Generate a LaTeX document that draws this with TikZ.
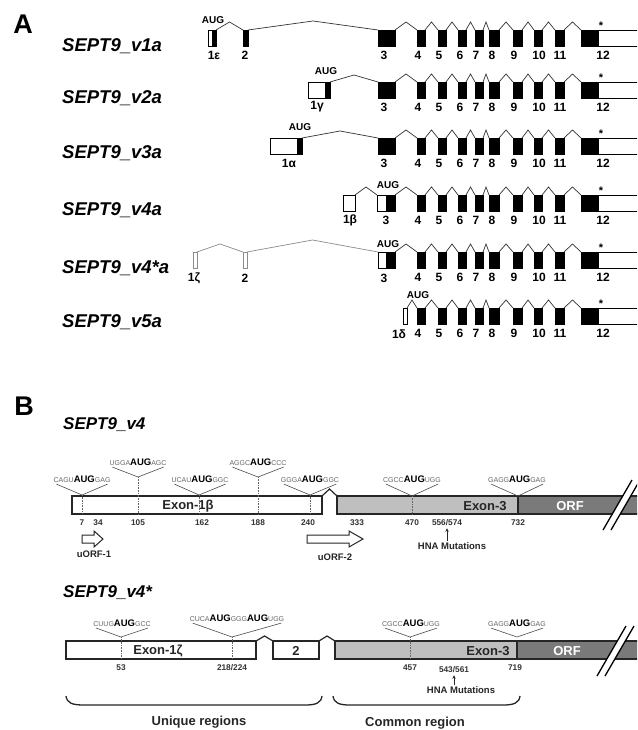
\documentclass[tikz,border=0pt]{standalone}
\usepackage{fontspec}
\setmainfont{Liberation Sans}
\usetikzlibrary{calc,arrows.meta}
\newcommand\fsz[1]{\fontsize{#1}{#1}\selectfont}
\newcommand\flk[1]{{\fsz{7}\mdseries\color{black!60}#1}}
\newcommand\augb{{\fsz{9.5}\bfseries\color{black}AUG}}
\tikzset{
 blk/.style={draw=black, fill=black, line width=0.4pt, inner sep=0pt, outer sep=0pt, minimum height=16pt, anchor=north west},
 wht/.style={draw=black, fill=white, line width=0.7pt, inner sep=0pt, outer sep=0pt, minimum height=16pt, anchor=north west},
 gwht/.style={wht, draw=black!45},
 intr/.style={draw=black!80, line width=0.7pt},
 gintr/.style={draw=black!45, line width=0.7pt},
 exlab/.style={font=\bfseries\fsz{12}, inner sep=0pt},
 auglab/.style={font=\bfseries\fsz{10}, inner sep=0pt},
 starlab/.style={font=\bfseries\fsz{11}, inner sep=0pt},
 vname/.style={font=\bfseries\itshape\fsz{18.5}, anchor=west, inner sep=0pt},
 vnameb/.style={vname, font=\bfseries\itshape\fsz{17}},
 panel/.style={font=\bfseries\fsz{27}, inner sep=0pt},
 bbox/.style={draw=black!85, line width=1.4pt, inner sep=0pt, outer sep=0pt, minimum height=18pt, anchor=north west},
 bw/.style={bbox, fill=white},
 bg/.style={bbox, fill=black!25},
 bo/.style={bbox, fill=black!52},
 blab/.style={font=\bfseries\fsz{13}, inner sep=0pt, text=black!85},
 seqt/.style={inner sep=0pt},
 vline/.style={draw=black!70, line width=0.6pt},
 dotl/.style={draw=black!60, line width=0.6pt, densely dotted},
 bline/.style={draw=black!85, line width=1.2pt},
 num/.style={font=\bfseries\fsz{8.3}, inner sep=0pt, text=black!80},
 smlab/.style={font=\bfseries\fsz{9.5}, inner sep=0pt, text=black!85},
 orfarr/.style={draw=black!85, line width=1pt, fill=white},
 brace/.style={draw=black!85, line width=1.3pt},
}
% intron connector: [style]{from}{to}{height}
\newcommand\intrn[4][intr]{\draw[#1] (#2.north east) -- ($(#2.north east)!.5!(#3.north west)+(0,-#4)$) -- (#3.north west);}
% exons 4..12, UTR, labels, star
\newcommand\restrow[2]{%
  \node[wht, minimum width=50] (#1u) at (598,#2) {};
  \foreach \ia/\xl/\xr/\lx in {4/417/425/418,5/438/446/439,6/458/466/460,7/475/483/476,8/489/499/492,9/513/522/514,10/534/542/539,11/555/564/560,12/581/598/603}{
    \node[blk, minimum width=\xr-\xl] (#1e\ia) at (\xl,#2) {};
    \node[exlab] (#1l\ia) at (\lx,#2+25) {\ia};
  }
  \foreach \ia/\ib in {4/5,5/6,6/7,7/8,8/9,9/10,10/11,11/12}{
    \intrn{#1e\ia}{#1e\ib}{8}
  }
  \node[starlab] (#1s) at (601,#2-4) {*};
}
% sequence annotation: name, x, text y, apex x, apex y, text
\newcommand\seqann[6]{%
  \node[seqt] (#1) at (#2,#3) {#6};
  \coordinate (#1p) at (#4,#5);
  \draw[vline] ($(#1.south west)+(3,1.5)$) -- (#1p) -- ($(#1.south east)+(-3,1.5)$);
}
\begin{document}
\begin{tikzpicture}[x=1pt,y=-1pt]
\useasboundingbox (0,0) rectangle (637,730);
\clip (0,0) rectangle (637,730);
\fill[white] (0,0) rectangle (637,730);

% ================= Panel A =================
\node[panel] (pa) at (23,24) {A};

% Row 1: v1a
\node[vname] (n1) at (62,46) {SEPT9\_v1a};
\node[wht, minimum width=4] (a1w) at (208,30) {};
\node[blk, minimum width=4] (a1b) at (212,30) {};
\node[blk, minimum width=5] (a2) at (243,30) {};
\node[blk, minimum width=17] (ae3) at (378,30) {};
\restrow{a}{30}
\intrn{a1b}{a2}{8}
\intrn{a2}{ae3}{9}
\intrn{ae3}{ae4}{8}
\node[auglab] (aaug) at (213,20) {AUG};
\node[exlab] at (214,55) {1ε};
\node[exlab] at (245,55) {2};
\node[exlab] at (384,55) {3};

% Row 2: v2a
\node[vname] (n2) at (62,98) {SEPT9\_v2a};
\node[wht, minimum width=17] (b1w) at (308,82) {};
\node[blk, minimum width=5] (b1b) at (325,82) {};
\node[blk, minimum width=17] (be3) at (378,82) {};
\restrow{b}{82}
\intrn{b1b}{be3}{7}
\intrn{be3}{be4}{8}
\node[auglab] (baug) at (326,71) {AUG};
\node[exlab] at (317,107) {1γ};
\node[exlab] at (384,107) {3};

% Row 3: v3a
\node[vname] (n3) at (62,153) {SEPT9\_v3a};
\node[wht, minimum width=27] (c1w) at (270,138) {};
\node[blk, minimum width=5] (c1b) at (297,138) {};
\node[blk, minimum width=17] (ce3) at (378,138) {};
\restrow{c}{138}
\intrn{c1b}{ce3}{7}
\intrn{ce3}{ce4}{8}
\node[auglab] (caug) at (300,127) {AUG};
\node[exlab] at (289,163) {1α};
\node[exlab] at (384,163) {3};

% Row 4: v4a
\node[vname] (n4) at (62,210) {SEPT9\_v4a};
\node[wht, minimum width=12] (d1w) at (343,195) {};
\node[wht, minimum width=9] (d3w) at (377,195) {};
\node[blk, minimum width=9] (de3) at (386,195) {};
\restrow{d}{195}
\intrn{d1w}{d3w}{8}
\intrn{de3}{de4}{8}
\node[auglab] (daug) at (388,185) {AUG};
\node[exlab] at (350,220) {1β};
\node[exlab] at (386,220) {3};

% Row 5: v4*a
\node[vname] (n5) at (62,268) {SEPT9\_v4*a};
\node[gwht, minimum width=4] (e1w) at (193,252) {};
\node[gwht, minimum width=4] (e2w) at (243,252) {};
\node[wht, minimum width=8] (e3w) at (378,252) {};
\node[blk, minimum width=9] (ee3) at (386,252) {};
\restrow{e}{252}
\intrn[gintr]{e1w}{e2w}{8}
\intrn[gintr]{e2w}{e3w}{12}
\intrn{ee3}{ee4}{8}
\node[auglab] (eaug) at (388,244) {AUG};
\node[exlab] at (194,278) {1ζ};
\node[exlab] at (245,278) {2};
\node[exlab] at (384,278) {3};

% Row 6: v5a
\node[vname] (n6) at (62,322) {SEPT9\_v5a};
\node[wht, minimum width=4] (f1w) at (403,308) {};
\restrow{f}{308}
\intrn{f1w}{fe4}{8}
\node[auglab] (faug) at (418,295) {AUG};
\node[exlab] at (399,334) {1δ};

% ================= Panel B =================
\node[panel] (pb) at (24,406) {B};

% ---- SEPT9_v4 ----
\node[vnameb] (m1) at (63,425) {SEPT9\_v4};
\node[bo, minimum width=130] (o1) at (518,496) {};
\node[bg, minimum width=181] (g1) at (337,496) {};
\node[bw, minimum width=250] (w1) at (72,496) {};
\intrn[bline]{w1}{g1}{7}
\node[blab] at (188,506) {Exon-1β};
\node[blab] at (485,506) {Exon-3};
\node[blab, text=white] at (570,506) {ORF};
\fill[white] (603,530) -- (632,480) -- (640,480) -- (611,530) -- cycle;
\draw[line width=1.3pt] (603,530) -- (632,480) (611,530) -- (640,480);

\seqann{s1}{82}{479}{82}{495}{\flk{CAGU}\augb\flk{GAG}}
\seqann{s2}{138}{462}{138}{477}{\flk{UGGA}\augb\flk{AGC}}
\seqann{s3}{200}{479}{199}{495}{\flk{UCAU}\augb\flk{GGC}}
\seqann{s4}{258}{462}{258}{477}{\flk{AGGC}\augb\flk{CCC}}
\seqann{s5}{310}{479}{310}{495}{\flk{GGGA}\augb\flk{GGC}}
\seqann{s6}{412}{479}{412}{496}{\flk{CGCC}\augb\flk{UGG}}
\seqann{s7}{517}{479}{518}{496}{\flk{GAGG}\augb\flk{GAG}}
\foreach \s in {s1,s2,s3,s4,s5}{\draw[dotl] (\s p) -- (\s p |- w1.south);}
\draw[dotl] (s6p) -- (s6p |- g1.south);

\node[num] at (82,523) {7};
\node[num] at (98,523) {34};
\node[num] at (138,523) {105};
\node[num] at (202,523) {162};
\node[num] at (258,523) {188};
\node[num] at (308,523) {240};
\node[num] at (357,523) {333};
\node[num] at (412,523) {470};
\node[num] (h1n) at (447,523) {556/574};
\node[num] at (518,523) {732};
\node[smlab] (h1) at (452,546) {HNA Mutations};
\draw[-{Stealth[length=3.5pt,width=3.5pt]}, line width=0.8pt, black!85] ($(h1.north -| h1n)+(0,-1)$) -- ($(h1n.south)+(0,2)$);

\draw[orfarr] (82,535) -- (94,535) -- (94,531) -- (103,539) -- (94,547) -- (94,543) -- (82,543) -- cycle;
\node[smlab] (u1) at (94,554) {uORF-1};
\draw[orfarr] (307,535) -- (349,535) -- (349,531) -- (363,539) -- (349,547) -- (349,543) -- (307,543) -- cycle;
\node[smlab] (u2) at (335,557) {uORF-2};

% ---- SEPT9_v4* ----
\node[vnameb] (m2) at (63,593) {SEPT9\_v4*};
\node[bo, minimum width=130] (o2) at (517,641) {};
\node[bg, minimum width=182] (g2) at (335,641) {};
\node[bw, minimum width=190] (w2) at (66,641) {};
\node[bw, minimum width=46] (w3) at (273,641) {};
\intrn[bline]{w2}{w3}{5}
\intrn[bline]{w3}{g2}{5}
\node[blab] at (158,651) {Exon-1ζ};
\node[blab] at (296,651) {2};
\node[blab] at (488,651) {Exon-3};
\node[blab, text=white] at (567,651) {ORF};
\fill[white] (597,676) -- (626,626) -- (634,626) -- (605,676) -- cycle;
\draw[line width=1.3pt] (597,676) -- (626,626) (605,676) -- (634,626);

\seqann{t1}{122}{623}{121}{637}{\flk{CUUG}\augb\flk{GCC}}
\seqann{t2}{237}{618}{232}{637}{\flk{CUCA}\augb\flk{GGG}\augb\flk{UGG}}
\seqann{t3}{411}{623}{410}{637}{\flk{CGCC}\augb\flk{UGG}}
\seqann{t4}{517}{623}{517}{637}{\flk{GAGG}\augb\flk{GAG}}
\foreach \s in {t1,t2,t3}{\draw[dotl] (\s p) -- (\s p |- w2.south);}

\node[num] at (121,668) {53};
\node[num] at (232,668) {218/224};
\node[num] at (410,668) {457};
\node[num] at (515,668) {719};
\node[num] (h2n) at (454,670) {543/561};
\node[smlab] (h2) at (461,690) {HNA Mutations};
\draw[-{Stealth[length=3.5pt,width=3.5pt]}, line width=0.8pt, black!85] ($(h2.north -| h2n)+(0,-1)$) -- ($(h2n.south)+(0,2)$);

\draw[brace] (66,696) .. controls (67,703) and (72,705) .. (84,705) -- (305,705) .. controls (316,705) and (321,703) .. (322,696);
\draw[brace] (333,696) .. controls (334,703) and (339,705) .. (350,705) -- (503,705) .. controls (514,705) and (519,703) .. (520,696);
\node[blab] (ur) at (199,722) {Unique regions};
\node[blab] (cr) at (415,723) {Common region};
\end{tikzpicture}
\end{document}
